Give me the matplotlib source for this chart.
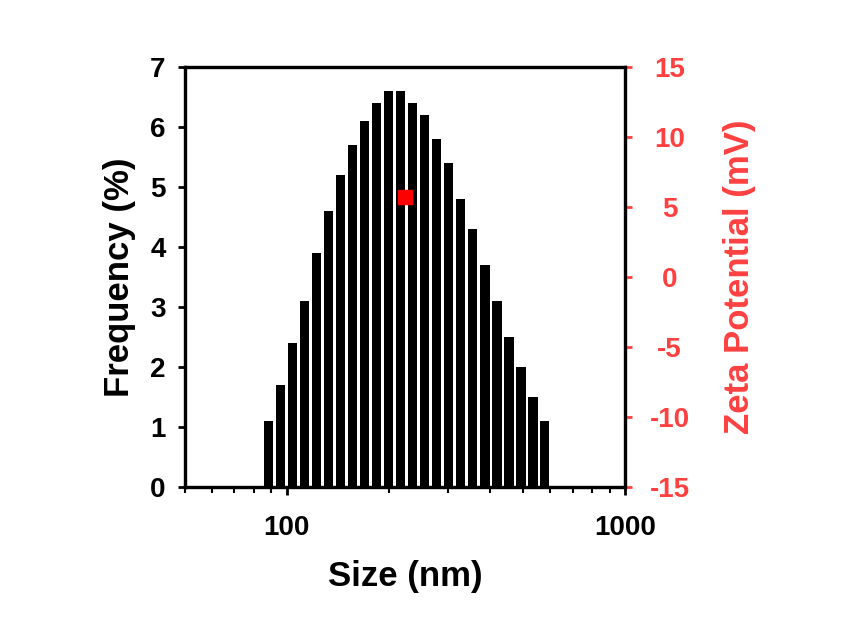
import matplotlib.pyplot as plt
import matplotlib.ticker as mticker
import numpy as np

plt.rcParams['font.family'] = ['Liberation Sans', 'DejaVu Sans']
plt.rcParams['font.weight'] = 'bold'
plt.rcParams['axes.unicode_minus'] = False

# rozkład wielkości cząstek (środki przedziałów w nm, częstość w %)
size_nm = [88.1, 95.6, 103.8, 112.7, 122.3, 132.7, 144.1, 156.4, 169.7, 184.2,
           200.0, 217.0, 235.6, 255.7, 277.5, 301.2, 327.0, 354.9, 385.2, 418.1,
           453.8, 492.6, 534.7, 578.0]
freq = [1.1, 1.7, 2.4, 3.1, 3.9, 4.6, 5.2, 5.7, 6.1, 6.4,
        6.6, 6.6, 6.4, 6.2, 5.8, 5.4, 4.8, 4.3, 3.7, 3.1,
        2.5, 2.0, 1.5, 1.1]

# potencjał zeta
zeta_size = [224]
zeta_mv = [5.7]
zeta_err = [0.3]

red = '#ff4040'

fig = plt.figure(figsize=(8.54, 6.3), dpi=100)
ax = fig.add_axes([0.2166, 0.227, 0.5153, 0.6667])

# słupki o stałej szerokości w skali logarytmicznej
half = 10 ** 0.0136
c = np.array(size_nm)
left = c / half
right = c * half
ax.bar(left, freq, width=right - left, align='edge', color='black')

ax.set_xscale('log')
ax.set_xlim(50, 1000)
ax.set_ylim(0, 7)
ax.xaxis.set_major_locator(mticker.FixedLocator([100, 1000]))
ax.xaxis.set_major_formatter(mticker.FixedFormatter(['100', '1000']))
ax.xaxis.set_minor_locator(mticker.LogLocator(base=10, subs=np.arange(2, 10) / 1.0))
ax.xaxis.set_minor_formatter(mticker.NullFormatter())
ax.set_yticks(range(8))

for s in ax.spines.values():
    s.set_linewidth(2.3)

ax.tick_params(axis='x', which='major', direction='out', length=6, width=2, pad=14, labelsize=20)
ax.tick_params(axis='x', which='minor', direction='out', length=4, width=1.5)
ax.tick_params(axis='y', direction='out', length=5, width=2, pad=9, labelsize=20)

ax.set_xlabel('Size (nm)', fontsize=25, fontweight='bold', labelpad=14)
ax.set_ylabel('Frequency (%)', fontsize=25, fontweight='bold', labelpad=10)

# druga oś - potencjał zeta
ax2 = ax.twinx()
ax2.errorbar(zeta_size, zeta_mv, yerr=zeta_err, fmt='s', color='red',
             markersize=10, capsize=3, elinewidth=1.5, capthick=1.5)
ax2.set_ylim(-15, 15)
ax2.set_yticks(range(-15, 16, 5))
ax2.tick_params(axis='y', direction='out', length=5, width=2, colors=red,
                labelsize=20, pad=27)
for lab in ax2.get_yticklabels():
    lab.set_horizontalalignment('center')
ax2.spines['right'].set_color('black')
for s in ax2.spines.values():
    s.set_linewidth(2.3)
ax2.set_ylabel('Zeta Potential (mV)', fontsize=25, fontweight='bold', color=red, labelpad=24)

fig.savefig('out.png', dpi=100)
